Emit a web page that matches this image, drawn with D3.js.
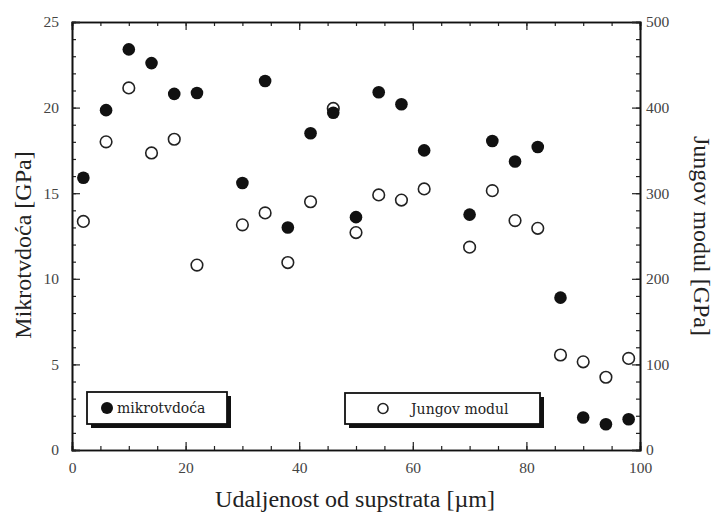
<!DOCTYPE html>
<meta charset="utf-8">
<script src="https://d3js.org/d3.v7.min.js"></script>
<style>
  body { margin: 0; background: #fff; }
</style>
<div id="chart"></div>
<script>
    // distance from substrate [um]
    const distance = [2, 6, 10, 14, 18, 22, 30, 34, 38, 42, 46, 50, 54, 58, 62, 70, 74, 78, 82, 86, 90, 94, 98];
    // microhardness [GPa] (left axis)
    const hardness = [15.9, 19.85, 23.4, 22.6, 20.8, 20.85, 15.6, 21.55, 13.0, 18.5, 19.7, 13.6, 20.9, 20.2, 17.5, 13.75, 18.05, 16.85, 17.7, 8.9, 1.9, 1.5, 1.8];
    // Young's modulus [GPa] (right axis)
    const modulus = [267, 360, 423, 347, 363, 216, 263, 277, 219, 290, 399, 254, 298, 292, 305, 237, 303, 268, 259, 111, 103, 85, 107];

    const xTicks = [0, 20, 40, 60, 80, 100];
    const yLeftTicks = [0, 5, 10, 15, 20, 25];
    const yRightTicks = [0, 100, 200, 300, 400, 500];

    const SERIF = "'Liberation Serif', 'Times New Roman', serif";

    var width = 717, height = 517;
    var margin = {top: 22, right: 77, bottom: 67, left: 72};
    var plotW = width - margin.left - margin.right,
        plotH = height - margin.top - margin.bottom;

    var svg = d3.select("#chart")
        .append("svg")
            .attr("width", width)
            .attr("height", height);

    var g = svg.append("g")
        .attr("transform", "translate(" + margin.left + "," + margin.top + ")");

    var x = d3.scaleLinear().domain([0, 100]).range([0, plotW]);
    var yL = d3.scaleLinear().domain([0, 25]).range([plotH, 0]);
    var yR = d3.scaleLinear().domain([0, 500]).range([plotH, 0]);

    function axisStyle(sel) {
        sel.attr("font-family", SERIF);
        sel.select(".domain").attr("stroke", "#111").attr("stroke-width", 1.6);
        sel.selectAll(".tick line").attr("stroke", "#222").attr("stroke-width", 1.2);
        sel.selectAll(".tick text")
            .attr("fill", "#444")
            .style("font-family", SERIF)
            .style("font-size", "15.5px");
    }

    // bottom (minor then major)
    g.append("g").attr("transform", "translate(0," + plotH + ")")
        .call(d3.axisBottom(x).tickValues(d3.range(0, 101, 5)).tickSize(-4).tickFormat(""))
        .call(axisStyle);
    g.append("g").attr("transform", "translate(0," + plotH + ")")
        .call(d3.axisBottom(x).tickValues(xTicks).tickSize(-8).tickPadding(12))
        .call(axisStyle);
    // top
    g.append("g")
        .call(d3.axisTop(x).tickValues(d3.range(0, 101, 5)).tickSize(-4).tickFormat(""))
        .call(axisStyle);
    g.append("g")
        .call(d3.axisTop(x).tickValues(xTicks).tickSize(-8).tickFormat(""))
        .call(axisStyle);
    // left
    g.append("g")
        .call(d3.axisLeft(yL).tickValues(d3.range(0, 26, 1)).tickSize(-4).tickFormat(""))
        .call(axisStyle);
    g.append("g")
        .call(d3.axisLeft(yL).tickValues(yLeftTicks).tickSize(-8).tickPadding(13))
        .call(axisStyle);
    // right
    g.append("g").attr("transform", "translate(" + plotW + ",0)")
        .call(d3.axisRight(yR).tickValues(d3.range(0, 501, 20)).tickSize(-4).tickFormat(""))
        .call(axisStyle);
    g.append("g").attr("transform", "translate(" + plotW + ",0)")
        .call(d3.axisRight(yR).tickValues(yRightTicks).tickSize(-8).tickPadding(6))
        .call(axisStyle);

    // Young's modulus - open circles
    g.append("g")
        .selectAll("circle")
        .data(distance)
        .enter().append("circle")
            .attr("cx", function(d) { return x(d); })
            .attr("cy", function(d, i) { return yR(modulus[i]); })
            .attr("r", 5.8)
            .attr("fill", "#fff")
            .attr("stroke", "#222")
            .attr("stroke-width", 1.6);

    // microhardness - filled circles
    g.append("g")
        .selectAll("circle")
        .data(distance)
        .enter().append("circle")
            .attr("cx", function(d) { return x(d); })
            .attr("cy", function(d, i) { return yL(hardness[i]); })
            .attr("r", 6.3)
            .attr("fill", "#111");

    // legends with drop shadow
    function legend(x0, y0, w, h, filled, label, cx, tx) {
        var lg = svg.append("g").attr("transform", "translate(" + x0 + "," + y0 + ")");
        lg.append("rect").attr("x", 4).attr("y", 4).attr("width", w).attr("height", h).attr("fill", "#111");
        lg.append("rect").attr("width", w).attr("height", h)
            .attr("fill", "#fff").attr("stroke", "#111").attr("stroke-width", 1.8);
        lg.append("circle").attr("cx", cx).attr("cy", h / 2)
            .attr("r", filled ? 6 : 5)
            .attr("fill", filled ? "#111" : "#fff")
            .attr("stroke", "#222").attr("stroke-width", filled ? 0 : 1.6);
        lg.append("text").attr("x", tx).attr("y", h / 2 + 5)
            .style("font-family", "'DejaVu Serif', serif")
            .style("font-size", "14px")
            .attr("fill", "#222")
            .text(label);
    }
    legend(87, 392, 140, 32, true, "mikrotvdoća", 20, 30);
    legend(345, 393, 195, 31, false, "Jungov modul", 38, 66);

    // axis titles
    function title(sel) {
        sel.attr("text-anchor", "middle")
            .attr("fill", "#222")
            .style("font-family", SERIF)
            .style("font-size", "24px");
    }
    svg.append("text")
        .attr("x", margin.left + plotW / 2 - 1)
        .attr("y", 507)
        .call(title)
        .text("Udaljenost od supstrata [µm]");

    svg.append("text")
        .attr("transform", "translate(31," + (margin.top + plotH / 2 + 9) + ") rotate(-90)")
        .call(title)
        .text("Mikrotvdoća [GPa]");

    svg.append("text")
        .attr("transform", "translate(694," + (margin.top + plotH / 2) + ") rotate(90)")
        .call(title)
        .text("Jungov modul [GPa]");
</script>
